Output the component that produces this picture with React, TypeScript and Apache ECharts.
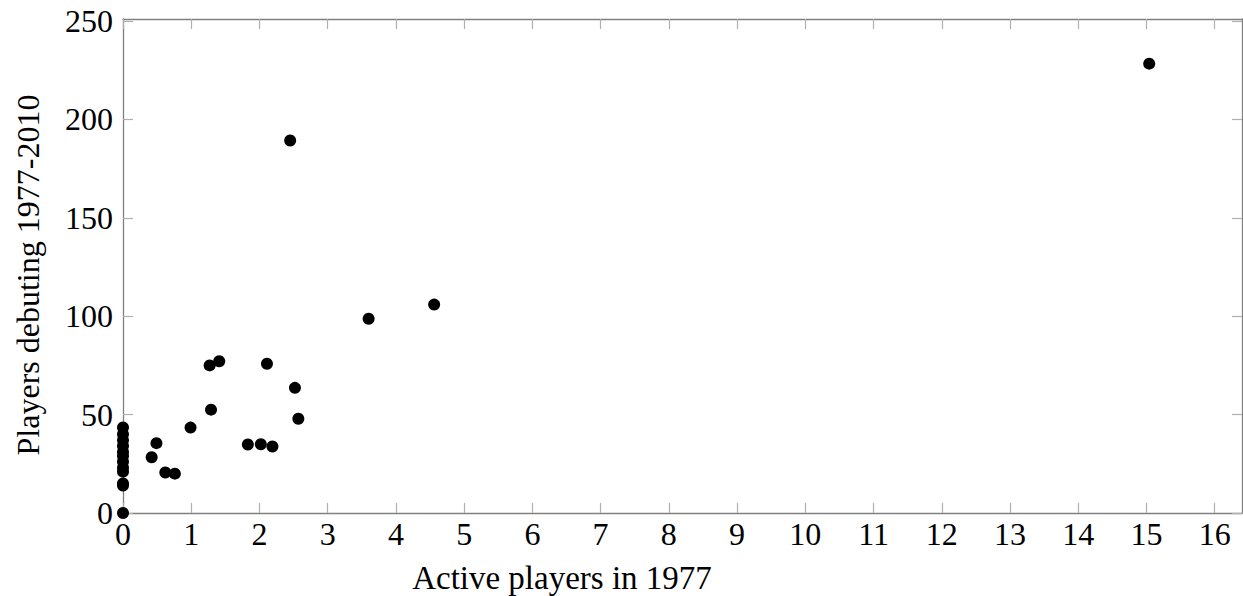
import React, { useEffect, useRef } from "react";
import * as echarts from "echarts";

const activeIn1977: number[] = [
  0, 0, 0, 0, 0, 0, 0, 0, 0, 0, 0, 0,
  0.42, 0.49, 0.62, 0.76, 0.99, 1.29, 1.27, 1.41, 1.83, 2.02, 2.19, 2.11,
  2.45, 2.52, 2.57, 3.6, 4.56, 15.04,
];
const debuting: number[] = [
  0, 14, 15, 21, 23, 26, 29, 31, 34, 37, 40, 43.5,
  28.3, 35.5, 20.6, 20, 43.4, 52.5, 75, 77.1, 34.8, 34.9, 33.8, 75.8,
  189.3, 63.6, 47.9, 98.7, 105.9, 228.3,
];
const xTicks: number[] = [0, 1, 2, 3, 4, 5, 6, 7, 8, 9, 10, 11, 12, 13, 14, 15, 16];
const yTicks: number[] = [0, 50, 100, 150, 200, 250];
const xTitle = "Active players in 1977";
const yTitle = "Players debuting 1977-2010";

const FONT = "'Liberation Serif', 'DejaVu Serif', serif";

export default function App() {
  const ref = useRef<HTMLDivElement>(null);
  useEffect(() => {
    if (!ref.current) return;
    document.body.style.margin = "0";
    const chart = echarts.init(ref.current, undefined, { renderer: "svg" });
    const frameLine = { show: true, lineStyle: { color: "#808080", width: 1.3 } };
    const tickStyle = { color: "#b0b0b0", width: 1.2 };
    const baseX = {
      type: "value" as const,
      min: 0,
      max: 16.4,
      splitLine: { show: false },
      axisLine: { ...frameLine, onZero: false },
    };
    const baseY = {
      type: "value" as const,
      min: 0,
      max: 251,
      splitLine: { show: false },
      axisLine: { ...frameLine, onZero: false },
    };
    chart.setOption({
      animation: false,
      backgroundColor: "#ffffff",
      grid: { left: 123, right: 1, top: 19, bottom: 83, containLabel: false },
      graphic: [
        {
          type: "text",
          x: 562,
          y: 578,
          style: {
            text: xTitle,
            fill: "#000",
            font: `33px ${FONT}`,
            align: "center",
            verticalAlign: "middle",
          },
        },
        {
          type: "text",
          x: 28,
          y: 275,
          rotation: Math.PI / 2,
          style: {
            text: yTitle,
            fill: "#000",
            font: `32px ${FONT}`,
            align: "center",
            verticalAlign: "middle",
          },
        },
      ],
      xAxis: [
        {
          ...baseX,
          position: "bottom",
          axisTick: { show: true, inside: true, length: 10, lineStyle: tickStyle, customValues: xTicks },
          axisLabel: {
            show: true,
            customValues: xTicks,
            color: "#000",
            fontFamily: FONT,
            fontSize: 32,
            margin: 5,
          },
        },
        {
          ...baseX,
          position: "top",
          axisTick: { show: true, inside: true, length: 10, lineStyle: tickStyle, customValues: xTicks },
          axisLabel: { show: false },
        },
      ],
      yAxis: [
        {
          ...baseY,
          position: "left",
          axisTick: { show: true, inside: true, length: 10, lineStyle: tickStyle, customValues: yTicks },
          axisLabel: {
            show: true,
            customValues: yTicks,
            color: "#000",
            fontFamily: FONT,
            fontSize: 32,
            margin: 10,
          },
        },
        {
          ...baseY,
          position: "right",
          axisTick: { show: true, inside: true, length: 10, lineStyle: tickStyle, customValues: yTicks },
          axisLabel: { show: false },
        },
      ],
      series: [
        {
          type: "scatter",
          xAxisIndex: 0,
          yAxisIndex: 0,
          symbol: "circle",
          symbolSize: 12,
          itemStyle: { color: "#000000", opacity: 1 },
          data: activeIn1977.map((x, i) => [x, debuting[i]]),
          clip: false,
        },
      ],
    });
    return () => chart.dispose();
  }, []);
  return <div ref={ref} style={{ width: 1243, height: 596 }} />;
}
